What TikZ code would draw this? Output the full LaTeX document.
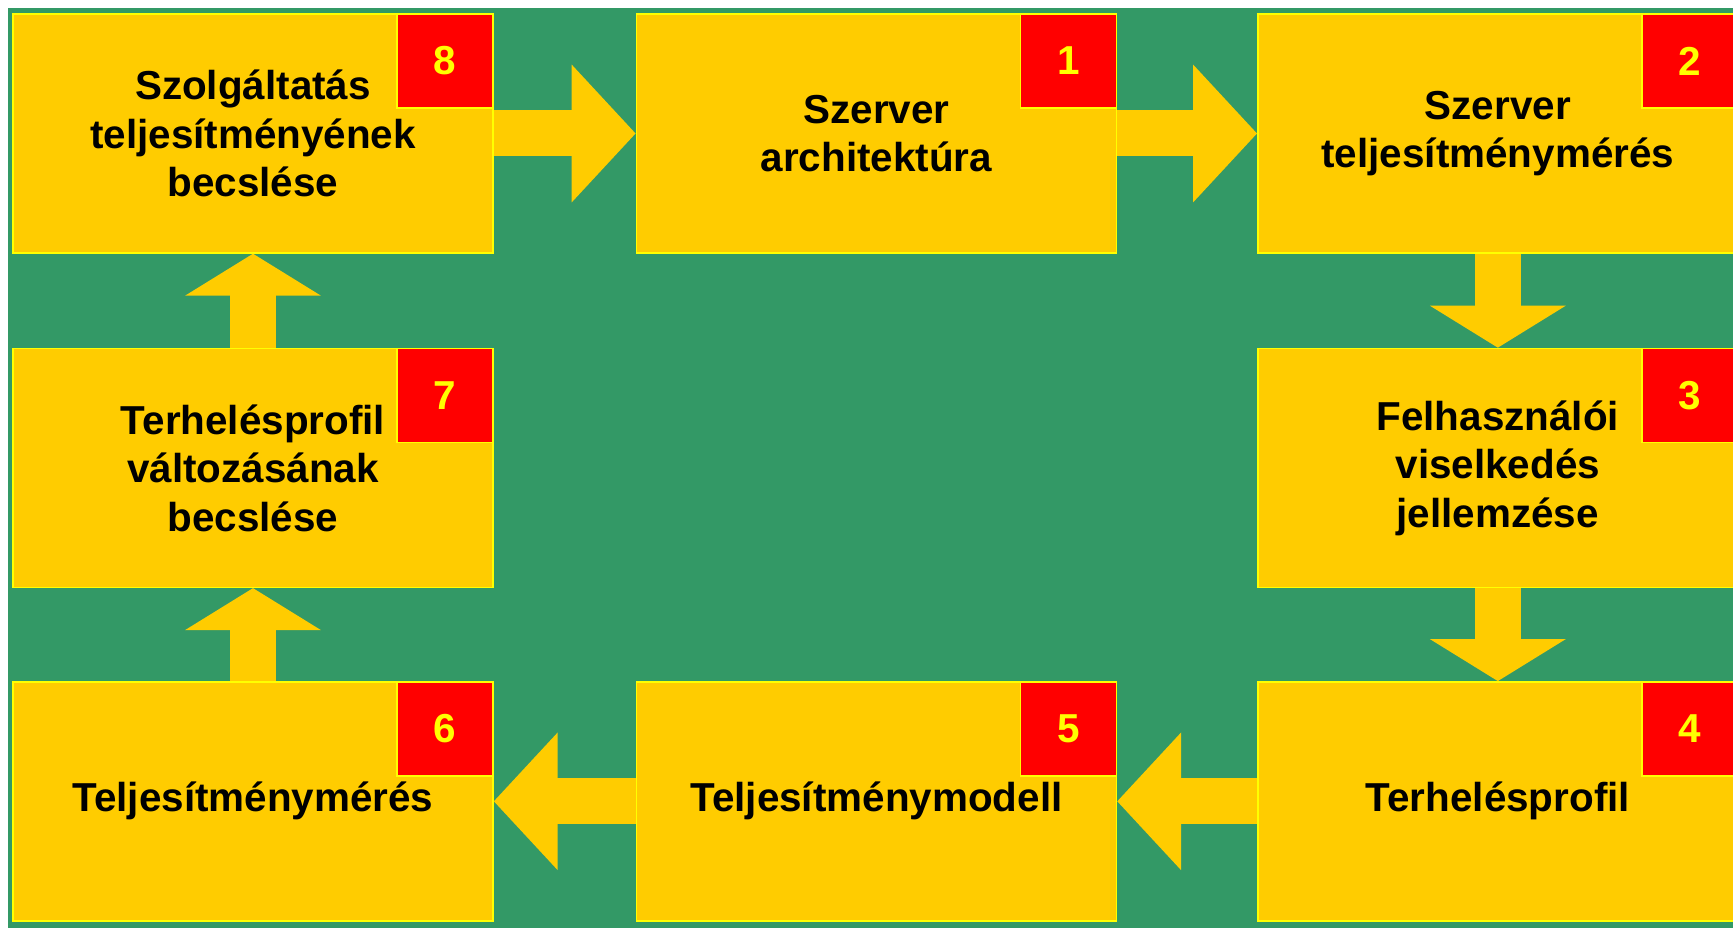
\documentclass[tikz,border=0pt]{standalone}
\usepackage{fontspec}
\setmainfont{Liberation Sans}
\usetikzlibrary{positioning,arrows.meta}

\definecolor{hatter}{RGB}{51,153,102}
\definecolor{narancs}{RGB}{255,204,0}
\definecolor{sarga}{RGB}{255,255,0}
\definecolor{piros}{RGB}{255,0,0}

\tikzset{
	lepes/.style={draw=sarga, fill=narancs, minimum width=4.8cm, minimum height=2.39cm, inner sep=0pt, align=center, font=\bfseries\fontsize{11.5}{13.8}\selectfont},
	szam/.style={draw=sarga, fill=piros, text=sarga, anchor=north east, minimum width=0.96cm, minimum height=0.94cm, inner sep=0pt, font=\bfseries\fontsize{11.5}{13.8}\selectfont},
	vizsz/.style={draw=narancs, line width=0.46cm, -{Triangle[length=0.64cm,width=1.34cm]}},
	fugg/.style={draw=narancs, line width=0.46cm, -{Triangle[length=0.42cm,width=1.34cm]}}
}

\begin{document}
\begin{tikzpicture}
	\useasboundingbox (0,0) rectangle (17.33,9.30);
	\fill[hatter] (0.08,0.02) rectangle (17.33,9.22);

	\node[lepes] (n8) at (2.53,7.965) {Szolgáltatás\\teljesítményének\\becslése};
	\node[lepes, right=1.42cm of n8] (n1) {Szerver\\architektúra};
	\node[lepes, right=1.40cm of n1] (n2) {Szerver\\teljesítménymérés};
	\node[lepes, below=0.94cm of n8] (n7) {Terhelésprofil\\változásának\\becslése};
	\node[lepes, below=0.93cm of n7] (n6) {Teljesítménymérés};
	\node[lepes, below=0.94cm of n2] (n3) {Felhasználói\\viselkedés\\jellemzése};
	\node[lepes, below=0.93cm of n3] (n4) {Terhelésprofil};
	\node[lepes, right=1.42cm of n6] (n5) {Teljesítménymodell};

	\foreach \n in {1,...,8}
		\node[szam] (k\n) at (n\n.north east) {\n};

	\draw[vizsz] (n8) -- (n1);
	\draw[vizsz] (n1) -- (n2);
	\draw[fugg] (n2) -- (n3);
	\draw[fugg] (n3) -- (n4);
	\draw[vizsz] (n4) -- (n5);
	\draw[vizsz] (n5) -- (n6);
	\draw[fugg] (n6) -- (n7);
	\draw[fugg] (n7) -- (n8);
\end{tikzpicture}
\end{document}
